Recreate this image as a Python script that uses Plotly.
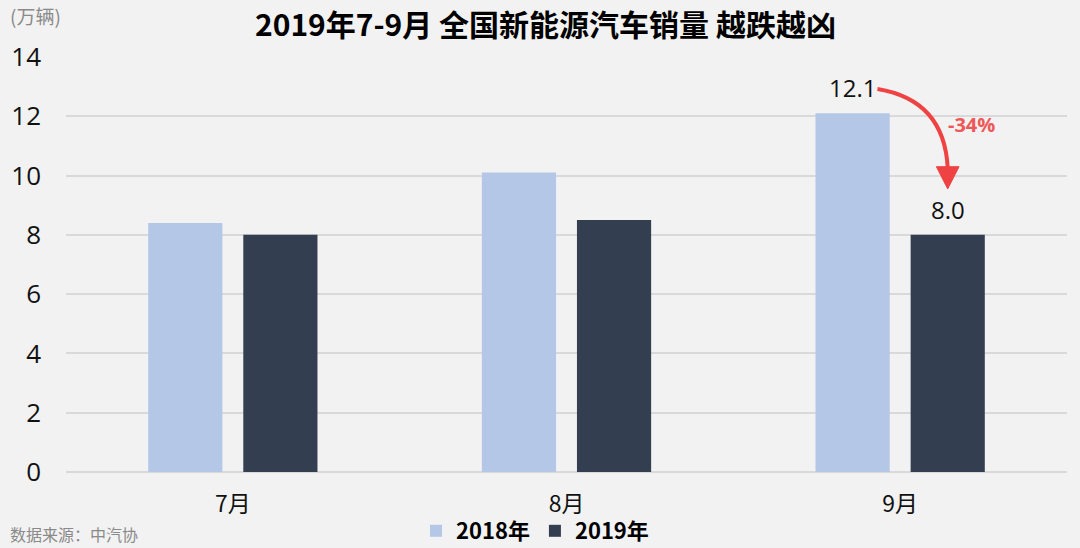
import plotly.graph_objects as go

# ---- data ----
months = ["7月", "8月", "9月"]
sales_2018 = [8.4, 10.1, 12.1]
sales_2019 = [8.0, 8.5, 8.0]
series_names = ["2018年", "2019年"]
y_ticks = [0, 2, 4, 6, 8, 10, 12, 14]

title_text = "2019年7-9月 全国新能源汽车销量 越跌越凶"
unit_text = "(万辆)"
source_text = "数据来源：中汽协"

c2018 = "#B4C7E7"
c2019 = "#333F50"
red = "#EF4343"
bg = "#F2F2F2"
FONT = "Open Sans, Noto Sans CJK SC, sans-serif"
CJK = "Noto Sans CJK SC, sans-serif"

W, H = 1080, 548
ML, MR, MT, MB = 66, 13, 57, 76
plot_h = H - MT - MB
plot_w = W - ML - MR

def py(pix):  # pixel y -> paper y
    return (H - MB - pix) / plot_h

def px(pix):  # pixel x -> paper x
    return (pix - ML) / plot_w

bargap = 0.43
groupgap = 0.22
off = (1 - bargap) / 4  # centre offset of each bar in a group

fig = go.Figure()
fig.add_trace(go.Bar(x=months, y=sales_2018, name=series_names[0],
                     marker=dict(color=c2018, line=dict(width=0))))
fig.add_trace(go.Bar(x=months, y=sales_2019, name=series_names[1],
                     marker=dict(color=c2019, line=dict(width=0))))

idx = 2  # September
v_a, v_b = sales_2018[idx], sales_2019[idx]
pct = round((v_b - v_a) / v_a * 100)

ann = []
ann.append(dict(xref="x2", yref="y", x=idx - off, y=v_a, text=f"{v_a:.1f}",
                showarrow=False, yanchor="bottom", yshift=7,
                font=dict(family=FONT, size=24, color="#111111")))
ann.append(dict(xref="x2", yref="y", x=idx + off, y=v_b, text=f"{v_b:.1f}",
                showarrow=False, yanchor="bottom", yshift=7,
                font=dict(family=FONT, size=24, color="#111111")))
ann.append(dict(xref="x2", yref="y", x=idx + off + 0.07, y=v_a - 0.38,
                text=f"<b>{pct}%</b>", showarrow=False,
                font=dict(family=FONT, size=20, color="#EE5858")))
# title at the very top
ann.append(dict(xref="paper", yref="paper", x=px(545), y=py(-1), text=f"<b>{title_text}</b>",
                showarrow=False, xanchor="center", yanchor="top",
                font=dict(family=CJK, size=30, color="#000000")))
ann.append(dict(xref="paper", yref="paper", x=px(8), y=py(0), text=unit_text,
                showarrow=False, xanchor="left", yanchor="top",
                font=dict(family=CJK, size=19, color="#8A8A8A")))
ann.append(dict(xref="paper", yref="paper", x=px(8), y=py(548), text=source_text,
                showarrow=False, xanchor="left", yanchor="bottom",
                font=dict(family=CJK, size=16, color="#8A8A8A")))

# curved arrow
x0, y0 = idx - 0.068, v_a + 0.82
xc, yc = idx + off - 0.01, v_a + 0.45
x1, y1 = idx + off, v_b + 2.25
tip_y = v_b + 1.55
hw = 0.034
shapes = [
    dict(type="path", xref="x2", yref="y",
         path=f"M {x0},{y0} Q {xc},{yc} {x1},{y1}",
         line=dict(color=red, width=4)),
    dict(type="path", xref="x2", yref="y",
         path=f"M {x1-hw},{y1+0.05} L {x1+hw},{y1+0.05} L {x1},{tip_y} Z",
         fillcolor=red, line=dict(color=red, width=1)),
]

fig.update_layout(
    width=W, height=H,
    margin=dict(l=ML, r=MR, t=MT, b=MB, pad=0, autoexpand=False),
    paper_bgcolor=bg, plot_bgcolor=bg,
    barmode="group", bargap=bargap, bargroupgap=groupgap,
    font=dict(family=FONT, color="#111111"),
    showlegend=True,
    legend=dict(orientation="h", xanchor="left", yanchor="bottom",
                x=px(416), y=py(552),
                font=dict(family=CJK, size=22, color="#000000", weight="bold"),
                bgcolor="rgba(0,0,0,0)", traceorder="normal"),
    xaxis=dict(showgrid=False, showline=False, zeroline=False, ticks="",
               tickfont=dict(family=CJK, size=23, color="#111111"),
               ticklabelstandoff=16),
    xaxis2=dict(overlaying="x", range=[-0.5, 2.5], visible=False),
    yaxis=dict(range=[0, 14], tickvals=y_ticks, showgrid=True,
               gridcolor="#D9D9D9", gridwidth=1.5, zeroline=True,
               zerolinecolor="#D9D9D9", zerolinewidth=1.5, showline=False,
               tickfont=dict(family=FONT, size=26, color="#111111"),
               ticklabelstandoff=24),
    annotations=ann,
    shapes=shapes,
)

fig.write_html("out.html", config={"displayModeBar": False},
               post_script="document.body.style.margin='0';document.body.style.overflow='hidden';")
